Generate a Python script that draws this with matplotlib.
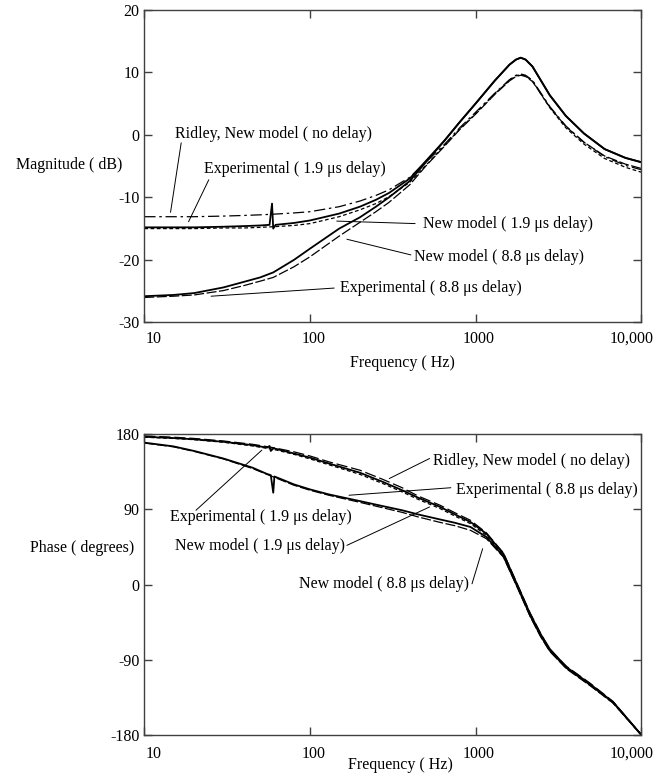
import matplotlib
matplotlib.use('Agg')
import matplotlib.pyplot as plt
import matplotlib.transforms as mtransforms
from matplotlib.ticker import NullLocator

plt.rcParams['font.family'] = ['Liberation Serif', 'DejaVu Serif']
plt.rcParams['axes.unicode_minus'] = False
plt.rcParams['font.size'] = 11.5

# ---- magnitude (dB) ----
mag_freq = [10, 15, 20, 30, 40, 50, 60, 80, 100, 150, 200, 250, 300, 400, 500,
            650, 800, 1000, 1300, 1600, 1750, 1870, 2000, 2200, 2800, 3500,
            4500, 6000, 8000, 10000]
mag_ridley = [-13.1, -13.1, -13.1, -13.0, -12.9, -12.8, -12.7, -12.5, -12.3, -11.5,
              -10.6, -9.7, -8.8, -6.8, -4.4, -1.5, 1.1, 3.6, 6.6, 8.8, 9.5, 9.7,
              9.5, 8.7, 4.5, 1.4, -1.2, -3.5, -4.9, -5.6]
mag_model19 = [-15.0, -15.0, -15.0, -14.9, -14.9, -14.8, -14.7, -14.5, -14.2, -13.1,
               -12.0, -11.0, -9.9, -7.6, -4.9, -1.7, 0.9, 3.4, 6.5, 8.7, 9.4, 9.6,
               9.4, 8.6, 4.3, 1.1, -1.5, -3.8, -5.2, -6.0]
mag_model88 = [-26.0, -25.8, -25.6, -24.9, -24.1, -23.4, -22.8, -21.1, -19.5, -16.2,
               -14.0, -12.3, -10.8, -8.0, -5.0, -1.8, 0.8, 3.3, 6.4, 8.6, 9.3, 9.5,
               9.3, 8.5, 4.4, 1.3, -1.2, -3.4, -4.7, -5.4]
mag_exp88 = [-25.8, -25.6, -25.3, -24.4, -23.5, -22.8, -22.0, -20.0, -18.2, -15.0,
             -13.2, -11.5, -10.0, -7.4, -4.4, -0.9, 2.0, 5.0, 8.6, 11.2, 12.0, 12.3,
             12.0, 10.9, 6.3, 3.0, 0.2, -2.3, -3.7, -4.4]
mag_freq_exp19 = [10, 15, 20, 30, 40, 50, 57, 59, 60, 62, 80, 100, 150, 200, 250, 300,
                  400, 500, 650, 800, 1000, 1300, 1600, 1750, 1870, 2000, 2200,
                  2800, 3500, 4500, 6000, 8000, 10000]
mag_exp19 = [-14.8, -14.8, -14.8, -14.7, -14.6, -14.5, -14.4, -11.0, -15.0, -14.4,
             -14.1, -13.7, -12.6, -11.5, -10.4, -9.3, -7.0, -4.2, -0.9, 2.0, 5.0,
             8.6, 11.2, 12.0, 12.3, 12.0, 10.9, 6.3, 3.0, 0.2, -2.3, -3.7, -4.4]

# ---- phase (degrees) ----
ph_freq = [10, 15, 20, 30, 45, 60, 80, 100, 130, 200, 275, 360, 450, 610, 750, 930,
           1160, 1470, 1770, 2130, 2460, 2800, 3540, 4900, 6760, 10000]
ph_ridley = [178, 176.5, 175, 172, 168, 164, 159, 154, 147, 137, 126, 116, 106, 95,
             86, 77, 62, 38, 2, -34, -58, -78, -98, -118, -140, -180]
ph_model19 = [176.5, 175, 173.5, 170.5, 166, 162, 156, 150.5, 143.5, 132, 121, 111,
              102, 91, 82, 73, 59, 35, -1, -37, -60, -79, -100, -120, -142, -180]
ph_model88 = [169.5, 165, 159.5, 150.5, 139, 129, 119, 113, 107, 98.5, 92, 86.5, 81,
              74.5, 70.5, 65, 55, 33, -2, -38, -62, -80, -101, -121, -142, -180]
ph_freq_exp = [10, 15, 20, 30, 45, 55, 57, 58, 60, 61, 80, 100, 130, 200, 275, 360,
               450, 610, 750, 930, 1160, 1470, 1770, 2130, 2460, 2800, 3540, 4900,
               6760, 10000]
ph_exp19 = [177, 175.5, 174, 171, 167, 164, 166, 160, 163, 163, 157, 152, 145, 134,
            123, 113, 104, 93, 84, 75, 61, 37, 1, -35, -59, -77, -99, -119, -141, -180]
ph_exp88 = [170, 165.5, 160, 151, 140, 132.5, 131.5, 131, 110, 129.5, 120, 114, 108,
            100, 94, 89, 84, 78, 74, 69, 57, 34, -1, -37, -61, -79, -100, -120, -141,
            -180]

freq_ticks = [10, 100, 1000, 10000]
freq_labels = ['10', '100', '1000', '10,000']
mag_ticks = [-30, -20, -10, 0, 10, 20]
ph_ticks = [-180, -90, 0, 90, 180]

# (text, text position, leader start, leader tip)
mag_notes = [
    ('Ridley, New model ( no delay)', (15.3, 0.1), (16.7, -1.3), (14.4, -12.4)),
    ('Experimental ( 1.9 \u03bcs delay)', (22.9, -5.5), (24.5, -7.2), (18.5, -13.9)),
    ('New model ( 1.9 \u03bcs delay)', (480, -14.2), (431, -14.2), (145, -13.8)),
    ('New model ( 8.8 \u03bcs delay)', (424, -19.5), (406, -19.2), (167, -16.7)),
    ('Experimental ( 8.8 \u03bcs delay)', (151, -24.5), (140, -24.5), (25.3, -25.8)),
]
ph_notes = [
    ('Ridley, New model ( no delay)', (552, 148), (527, 151), (301, 127)),
    ('Experimental ( 8.8 \u03bcs delay)', (765, 113), (708, 116), (172, 107)),
    ('Experimental ( 1.9 \u03bcs delay)', (14.2, 81), (20.5, 89), (51.2, 161)),
    ('New model ( 1.9 \u03bcs delay)', (15.4, 46), (167, 47), (527, 93)),
    ('New model ( 8.8 \u03bcs delay)', (86.1, 1), (950, 1), (1101, 43)),
]

frame = '#404040'
fig = plt.figure(figsize=(6.68, 7.73), dpi=100)
ax1 = fig.add_axes([0.216, 0.5828, 0.7442, 0.4049])
ax2 = fig.add_axes([0.216, 0.0492, 0.7442, 0.389])


def style_axes(ax, yticks, ylim, xpad):
    ax.set_xscale('log')
    ax.set_xlim(10, 10000)
    ax.set_ylim(*ylim)
    ax.set_xticks(freq_ticks)
    ax.set_xticklabels(freq_labels)
    ax.xaxis.set_minor_locator(NullLocator())
    ax.set_yticks(yticks)
    ax.tick_params(direction='in', top=True, right=True, length=6, width=1,
                   color=frame, labelsize=11.5)
    ax.tick_params(axis='x', pad=xpad)
    ax.tick_params(axis='y', pad=3.5)
    for s in ax.spines.values():
        s.set_color(frame)
        s.set_linewidth(1.0)
    shifts = [0.09, 0.04, 0.03, -0.10]
    for lab, dx in zip(ax.get_xticklabels(), shifts):
        lab.set_transform(lab.get_transform() +
                          mtransforms.ScaledTranslation(dx, 0, fig.dpi_scale_trans))


def add_notes(ax, notes):
    for txt, pos, start, tip in notes:
        ax.text(pos[0], pos[1], txt, ha='left', va='center')
        ax.annotate('', xy=tip, xytext=start,
                    arrowprops=dict(arrowstyle='-', color='k', lw=0.7,
                                    shrinkA=0, shrinkB=0))


# magnitude plot
ax1.plot(mag_freq, mag_ridley, color='k', lw=0.9, dashes=(9, 3, 2, 3))
ax1.plot(mag_freq, mag_model19, color='k', lw=0.9, dashes=(3, 2))
ax1.plot(mag_freq, mag_model88, color='k', lw=0.9, dashes=(8, 2))
ax1.plot(mag_freq, mag_exp88, color='k', lw=1.3)
ax1.plot(mag_freq_exp19, mag_exp19, color='k', lw=1.3)
style_axes(ax1, mag_ticks, (-30, 20), 6.0)
add_notes(ax1, mag_notes)

# phase plot
ax2.plot(ph_freq, ph_ridley, color='k', lw=0.9, dashes=(9, 3))
ax2.plot(ph_freq, ph_model19, color='k', lw=0.9, dashes=(3, 2))
ax2.plot(ph_freq, ph_model88, color='k', lw=0.9, dashes=(8, 2))
ax2.plot(ph_freq_exp, ph_exp19, color='k', lw=1.3)
ax2.plot(ph_freq_exp, ph_exp88, color='k', lw=1.3)
style_axes(ax2, ph_ticks, (-180, 180), 8.0)
add_notes(ax2, ph_notes)

fig.text(0.103, 0.7865, 'Magnitude ( dB)', ha='center', va='center')
fig.text(0.1228, 0.2907, 'Phase ( degrees)', ha='center', va='center')
fig.text(0.602, 0.5304, 'Frequency ( Hz)', ha='center', va='center')
fig.text(0.600, 0.0103, 'Frequency ( Hz)', ha='center', va='center')

fig.savefig('out.png', dpi=100, facecolor='white')
